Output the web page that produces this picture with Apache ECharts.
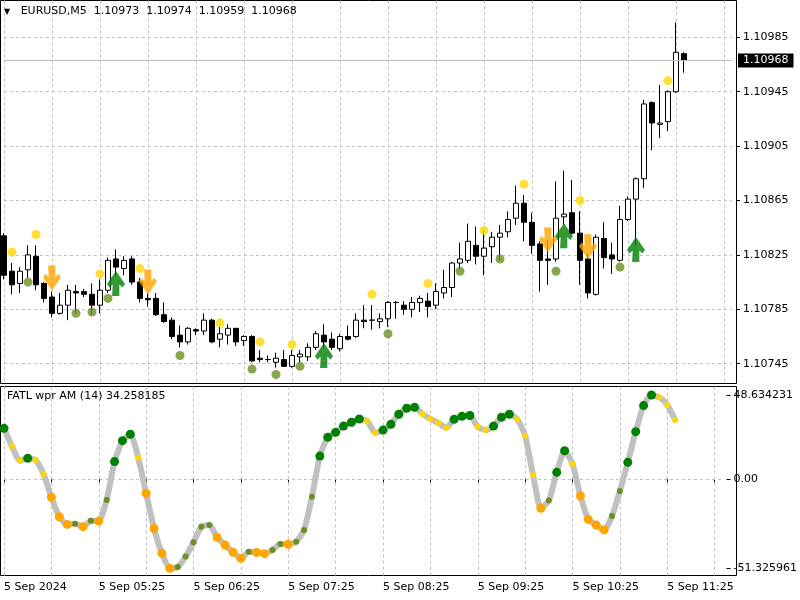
<!DOCTYPE html>
<html><head><meta charset="utf-8">
<script src="https://cdn.jsdelivr.net/npm/echarts@6/dist/echarts.min.js"></script>
<style>html,body{margin:0;padding:0;background:#fff}#c{width:800px;height:600px}</style>
</head><body><div id="c"></div>
<script>
const opens = [1.10839,1.10813,1.10804,1.10814,1.10824,1.10804,1.10794,1.10782,1.10788,1.10798,
1.10798,1.10796,1.10788,1.10799,1.10822,1.10815,1.10822,1.10805,1.10793,1.10793,
1.10781,1.10777,1.10766,1.10761,1.10770,1.10769,1.10777,1.10763,1.10766,1.10771,
1.10762,1.10765,1.10749,1.10748,1.10746,1.10748,1.10743,1.10750,1.10750,1.10757,
1.10766,1.10763,1.10756,1.10765,1.10765,1.10777,1.10777,1.10776,1.10778,1.10790,
1.10788,1.10785,1.10790,1.10791,1.10788,1.10797,1.10801,1.10819,1.10821,1.10832,
1.10824,1.10831,1.10838,1.10842,1.10852,1.10863,1.10849,1.10833,1.10822,1.10822,
1.10853,1.10856,1.10841,1.10822,1.10796,1.10837,1.10825,1.10821,1.10851,1.10866,
1.10881,1.10937,1.10921,1.10923,1.10945,1.10973];
const highs = [1.10841,1.10819,1.10816,1.10832,1.10832,1.10805,1.10798,1.10797,1.10803,1.10803,
1.10800,1.10804,1.10807,1.10823,1.10829,1.10824,1.10824,1.10808,1.10797,1.10797,
1.10790,1.10779,1.10773,1.10772,1.10771,1.10782,1.10778,1.10772,1.10774,1.10771,
1.10766,1.10766,1.10755,1.10751,1.10753,1.10755,1.10755,1.10755,1.10760,1.10769,
1.10774,1.10768,1.10767,1.10773,1.10782,1.10788,1.10788,1.10782,1.10791,1.10791,
1.10791,1.10794,1.10795,1.10797,1.10804,1.10814,1.10820,1.10834,1.10848,1.10846,
1.10843,1.10842,1.10847,1.10857,1.10876,1.10869,1.10856,1.10835,1.10836,1.10879,
1.10887,1.10880,1.10857,1.10826,1.10840,1.10849,1.10834,1.10861,1.10868,1.10882,
1.10939,1.10938,1.10950,1.10946,1.10996,1.10974];
const lows = [1.10807,1.10796,1.10797,1.10808,1.10799,1.10790,1.10779,1.10781,1.10777,1.10782,
1.10794,1.10781,1.10782,1.10797,1.10810,1.10810,1.10803,1.10790,1.10787,1.10780,
1.10775,1.10763,1.10757,1.10759,1.10766,1.10766,1.10760,1.10757,1.10759,1.10758,
1.10758,1.10746,1.10746,1.10746,1.10742,1.10743,1.10742,1.10746,1.10747,1.10755,
1.10757,1.10755,1.10754,1.10762,1.10764,1.10771,1.10770,1.10771,1.10772,1.10778,
1.10781,1.10779,1.10783,1.10779,1.10785,1.10793,1.10794,1.10815,1.10819,1.10818,
1.10810,1.10819,1.10821,1.10838,1.10847,1.10835,1.10826,1.10798,1.10803,1.10820,
1.10847,1.10840,1.10803,1.10793,1.10795,1.10815,1.10811,1.10820,1.10850,1.10832,
1.10874,1.10902,1.10911,1.10916,1.10944,1.10959];
const closes = [1.10810,1.10803,1.10813,1.10825,1.10803,1.10793,1.10782,1.10788,1.10799,1.10797,
1.10796,1.10788,1.10799,1.10821,1.10816,1.10821,1.10805,1.10793,1.10792,1.10781,
1.10776,1.10765,1.10761,1.10771,1.10769,1.10777,1.10761,1.10767,1.10771,1.10761,
1.10765,1.10747,1.10748,1.10748,1.10749,1.10743,1.10751,1.10752,1.10757,1.10767,
1.10761,1.10757,1.10765,1.10763,1.10777,1.10776,1.10777,1.10778,1.10790,1.10790,
1.10785,1.10790,1.10793,1.10787,1.10798,1.10801,1.10819,1.10822,1.10835,1.10824,
1.10830,1.10838,1.10841,1.10851,1.10863,1.10849,1.10832,1.10821,1.10821,1.10852,
1.10855,1.10841,1.10821,1.10797,1.10838,1.10823,1.10822,1.10851,1.10866,1.10881,
1.10936,1.10922,1.10922,1.10945,1.10974,1.10968];

const highDotIdx = [1,4,12,17,27,32,36,46,53,60,65,72,83];
const highDotVal = [1.10827,1.10840,1.10811,1.10815,1.10775,1.10761,1.10759,1.10796,1.10804,1.10843,1.10877,1.10865,1.10953];
const lowDotIdx = [3,9,11,13,22,31,34,37,48,57,62,69,77];
const lowDotVal = [1.10805,1.10782,1.10783,1.10793,1.10751,1.10741,1.10737,1.10743,1.10767,1.10813,1.10822,1.10813,1.10816];
const downArrowIdx = [6,18,68,73];
const downArrowVal = [1.10808,1.10805,1.10836,1.10831];
const upArrowIdx = [14,40,70,79];
const upArrowVal = [1.10804,1.10751,1.10839,1.10829];

const oscValues = [29.4,19.2,10.7,12.1,11.1,3.1,-10.4,-21.6,-26.0,-25.7,
-27.3,-23.9,-24.1,-11.9,10.2,22.3,26.0,12.5,-8.1,-28.3,
-42.7,-51.325961,-50.6,-44.6,-36.3,-27.3,-26.4,-33.5,-37.9,-42.1,
-45.6,-41.8,-42.2,-42.9,-40.8,-37.3,-37.5,-36.0,-29.2,-10.0,
13.4,24.2,27.1,30.7,32.9,34.8,33.6,26.9,28.4,31.7,
37.5,41.0,41.5,37.7,34.8,32.6,29.8,34.6,36.3,36.8,
30.3,28.4,30.7,35.8,37.5,34.6,25.1,2.5,-16.7,-12.3,
4.0,16.5,8.8,-9.6,-23.1,-26.4,-29.2,-21.2,-6.7,9.8,
27.5,42.5,48.634231,47.3,42.9,34.258185];
const oscStates = ['G','Y','Y','G','Y','Y','O','O','O','L',
'O','L','O','L','G','G','G','Y','O','O',
'O','O','L','L','L','L','L','O','O','O',
'O','L','O','O','L','L','O','L','L','L',
'G','G','G','G','G','G','Y','Y','G','G',
'G','G','G','Y','Y','Y','Y','G','G','G',
'Y','Y','G','G','G','Y','Y','Y','O','L',
'G','G','Y','O','O','O','O','L','L','G',
'G','G','G','Y','Y','Y'];

const priceTicks = [1.10745,1.10785,1.10825,1.10865,1.10905,1.10945,1.10985];
const oscTicks = [-51.325961, 0, 48.634231];
const timeTickLabels = ['5 Sep 2024','5 Sep 05:25','5 Sep 06:25','5 Sep 07:25','5 Sep 08:25','5 Sep 09:25','5 Sep 10:25','5 Sep 11:25'];

const SLOTS = 92;
const categories = [];
for (let i = 0; i < SLOTS; i++) {
  const m = 4 * 60 + 25 + 5 * i;
  categories.push(String(Math.floor(m / 60)).padStart(2, '0') + ':' + String(m % 60).padStart(2, '0'));
}

const FONT = 'DejaVu Sans';
const candleData = opens.map((o, i) => [o, closes[i], lows[i], highs[i]]);
const stateStyle = {
  G: { color: '#008000', size: 9 },
  Y: { color: '#FFD700', size: 6 },
  O: { color: '#FFA500', size: 9 },
  L: { color: '#6B8E23', size: 6 }
};
const oscData = oscValues.map((v, i) => ({
  value: v,
  symbolSize: stateStyle[oscStates[i]].size,
  itemStyle: { color: stateStyle[oscStates[i]].color }
}));
const downPath = 'path://M50,0L120,0L120,110L150,80L175,115L87,240L0,115L25,80L55,110Z';
const upPath = 'path://M50,240L120,240L120,130L150,160L175,125L87,0L0,125L25,160L55,130Z';
const last = opens.length - 1;
const dash = { color: '#c0c0c0', type: [3, 3], width: 1 };
const txt = { fontFamily: FONT, fontSize: 11, color: '#000' };

const chart = echarts.init(document.getElementById('c'), null, { renderer: 'canvas' });
chart.setOption({
  animation: false,
  backgroundColor: '#fff',
  title: [
    { text: '{t|▼}   EURUSD,M5  ' + opens[last].toFixed(5) + '  ' + highs[last].toFixed(5) + '  ' + lows[last].toFixed(5) + '  ' + closes[last].toFixed(5),
      left: 4, top: 6, padding: 0,
      textStyle: Object.assign({ fontWeight: 'normal', rich: { t: { fontSize: 8, fontFamily: FONT, color: '#000' } } }, txt) },
    { text: 'FATL wpr AM (14) ' + oscValues[last].toFixed(6), left: 7, top: 391, padding: 0,
      textStyle: Object.assign({ fontWeight: 'normal' }, txt) }
  ],
  grid: [
    { left: 4, top: 0.5, width: 728, height: 383 },
    { left: 4, top: 386.5, width: 728, height: 189 },
    { left: 0.5, top: 0.5, width: 736, height: 383, show: true, borderColor: '#000', borderWidth: 1, backgroundColor: 'transparent' },
    { left: 0.5, top: 386.5, width: 736, height: 189, show: true, borderColor: '#000', borderWidth: 1, backgroundColor: 'transparent' }
  ],
  xAxis: [
    { gridIndex: 0, type: 'category', data: categories, boundaryGap: false,
      axisLine: { show: false }, axisTick: { show: false }, axisLabel: { show: false },
      splitLine: { show: true, interval: 5, lineStyle: dash } },
    { gridIndex: 1, type: 'category', data: categories, boundaryGap: false,
      axisLine: { show: false },
      axisTick: { show: true, interval: 5, length: 3, lineStyle: { color: '#000' } },
      axisLabel: Object.assign({ interval: 11, align: 'left', margin: 6,
        formatter: (v, idx) => (idx % 12 === 0 && timeTickLabels[idx / 12]) ? timeTickLabels[idx / 12] : '' }, txt),
      splitLine: { show: true, interval: 5, lineStyle: dash } },
    { gridIndex: 2, type: 'value', show: false },
    { gridIndex: 3, type: 'value', show: false }
  ],
  yAxis: [
    { gridIndex: 0, type: 'value', position: 'right', offset: 4, min: 1.107304, max: 1.110121,
      axisLine: { show: false },
      axisTick: { show: true, length: 4, customValues: priceTicks, lineStyle: { color: '#000' } },
      axisLabel: Object.assign({ customValues: priceTicks, margin: 7, formatter: v => v.toFixed(5) }, txt),
      splitLine: { show: true, lineStyle: dash } },
    { gridIndex: 1, type: 'value', position: 'right', offset: 4, min: -55.49, max: 53.53,
      axisLine: { show: false },
      axisTick: { show: true, length: 4, customValues: oscTicks, lineStyle: { color: '#000' } },
      axisLabel: Object.assign({ customValues: oscTicks, margin: 7, formatter: v => v === 0 ? '0.00' : String(v) }, txt),
      splitLine: { show: false } },
    { gridIndex: 2, type: 'value', show: false },
    { gridIndex: 3, type: 'value', show: false }
  ],
  series: [
    { type: 'candlestick', xAxisIndex: 0, yAxisIndex: 0, data: candleData, barWidth: 5, clip: false,
      itemStyle: { color: '#fff', color0: '#000', borderColor: '#000', borderColor0: '#000', borderWidth: 1 },
      markLine: { silent: true, symbol: ['none', 'none'], animation: false, precision: 5,
        lineStyle: { color: '#c0c0c0', type: 'solid', width: 1 },
        label: Object.assign({ show: true, position: 'end', distance: 6, formatter: () => closes[last].toFixed(5),
          backgroundColor: '#000', padding: [2, 5, 1, 5] }, txt, { color: '#fff' }),
        data: [{ yAxis: closes[last] }] } },
    { type: 'scatter', xAxisIndex: 0, yAxisIndex: 0, symbolSize: 9, clip: false, z: 3,
      itemStyle: { color: '#FFD700' }, data: highDotIdx.map((k, i) => [k, highDotVal[i]]) },
    { type: 'scatter', xAxisIndex: 0, yAxisIndex: 0, symbolSize: 9, clip: false, z: 3,
      itemStyle: { color: '#6B8E23' }, data: lowDotIdx.map((k, i) => [k, lowDotVal[i]]) },
    { type: 'scatter', xAxisIndex: 0, yAxisIndex: 0, symbol: downPath, symbolSize: [18, 25], clip: false, z: 4,
      itemStyle: { color: '#FFA500' }, data: downArrowIdx.map((k, i) => [k, downArrowVal[i]]) },
    { type: 'scatter', xAxisIndex: 0, yAxisIndex: 0, symbol: upPath, symbolSize: [18, 25], clip: false, z: 4,
      itemStyle: { color: '#008000' }, data: upArrowIdx.map((k, i) => [k, upArrowVal[i]]) },
    { type: 'line', xAxisIndex: 1, yAxisIndex: 1, data: oscData, smooth: 0.2, clip: false,
      symbol: 'circle', showAllSymbol: true,
      lineStyle: { color: '#c0c0c0', width: 6 },
      markLine: { silent: true, symbol: ['none', 'none'], animation: false, label: { show: false },
        lineStyle: dash, data: [{ yAxis: 0 }] } }
  ]
});
</script></body></html>
